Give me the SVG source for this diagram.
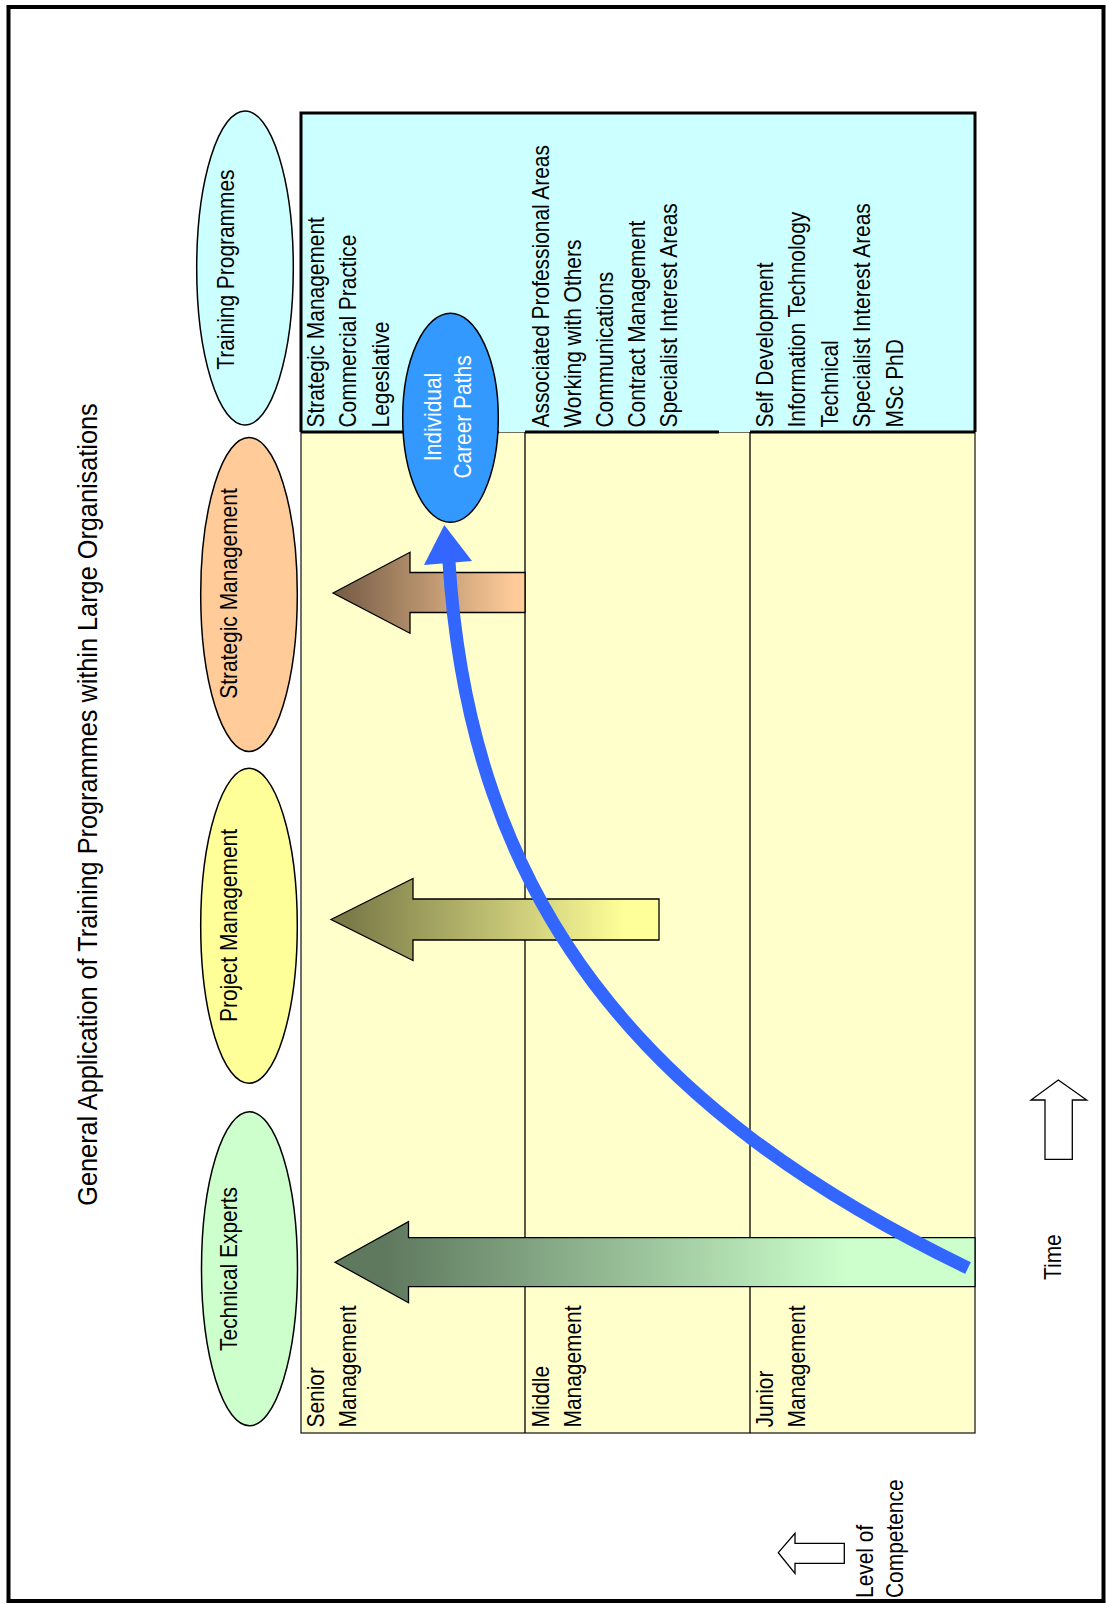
<svg xmlns="http://www.w3.org/2000/svg" width="1107" height="1604" viewBox="0 0 1107 1604">
<style>
text{font-family:"Liberation Sans",Arial,sans-serif;font-size:23px;fill:#000}
.title{font-size:27.8px}
.mid{text-anchor:middle}
.wt{fill:#fff}
.ell{stroke:#000;stroke-width:1.5}
.outline{fill:#fff;stroke:#000;stroke-width:1.3}
.blk{stroke:#000;stroke-width:1.3}
</style>
<defs>
<linearGradient id="gS" x1="0" y1="0" x2="1" y2="0"><stop offset="0.05" stop-color="#7A6048"/><stop offset="0.95" stop-color="#FFCC99"/></linearGradient>
<linearGradient id="gP" x1="0" y1="0" x2="1" y2="0"><stop offset="0.05" stop-color="#7A7A48"/><stop offset="0.9" stop-color="#FFFF99"/></linearGradient>
<linearGradient id="gT" x1="0" y1="0" x2="1" y2="0"><stop offset="0.08" stop-color="#5F795F"/><stop offset="0.8" stop-color="#CCFFCC"/></linearGradient>
</defs>
<rect x="8.5" y="7" width="1095" height="1594" fill="#fff" stroke="#000" stroke-width="4"/>
<text class="title mid" transform="translate(97,804.5) rotate(-90) scale(0.91,1)">General Application of Training Programmes within Large Organisations</text>

<g id="table">
<rect x="301" y="432" width="674" height="1001" fill="#FFFFCC" stroke="#222" stroke-width="1.3"/>
<line x1="525" y1="432" x2="525" y2="1433" stroke="#000" stroke-width="1.3"/>
<line x1="750" y1="432" x2="750" y2="1433" stroke="#000" stroke-width="1.3"/>
<rect x="301" y="113" width="674" height="319" fill="#CCFFFF"/>
<path d="M301,432 V113 H975 V432" fill="none" stroke="#000" stroke-width="3"/>
<path d="M301,432 H499 M525,432 H719 M750,432 H975" fill="none" stroke="#000" stroke-width="3"/>
</g>

<g id="programme-lists">
<text transform="translate(323.5,427.5) rotate(-90) scale(0.91,1)">Strategic Management</text>
<text transform="translate(356,427.5) rotate(-90) scale(0.91,1)">Commercial Practice</text>
<text transform="translate(388.5,427.5) rotate(-90) scale(0.91,1)">Legeslative</text>
<text transform="translate(549,427.5) rotate(-90) scale(0.91,1)">Associated Professional Areas</text>
<text transform="translate(581,427.5) rotate(-90) scale(0.91,1)">Working with Others</text>
<text transform="translate(613,427.5) rotate(-90) scale(0.91,1)">Communications</text>
<text transform="translate(645,427.5) rotate(-90) scale(0.91,1)">Contract Management</text>
<text transform="translate(677,427.5) rotate(-90) scale(0.91,1)">Specialist Interest Areas</text>
<text transform="translate(773,427.5) rotate(-90) scale(0.91,1)">Self Development</text>
<text transform="translate(805,427.5) rotate(-90) scale(0.91,1)">Information Technology</text>
<text transform="translate(837.5,427.5) rotate(-90) scale(0.91,1)">Technical</text>
<text transform="translate(870,427.5) rotate(-90) scale(0.91,1)">Specialist Interest Areas</text>
<text transform="translate(902.5,427.5) rotate(-90) scale(0.91,1)">MSc PhD</text>
</g>

<g id="row-labels">
<text transform="translate(323.5,1427.5) rotate(-90) scale(0.91,1)">Senior</text>
<text transform="translate(356,1427.5) rotate(-90) scale(0.91,1)">Management</text>
<text transform="translate(549,1427.5) rotate(-90) scale(0.91,1)">Middle</text>
<text transform="translate(581,1427.5) rotate(-90) scale(0.91,1)">Management</text>
<text transform="translate(773,1427.5) rotate(-90) scale(0.91,1)">Junior</text>
<text transform="translate(805,1427.5) rotate(-90) scale(0.91,1)">Management</text>
</g>

<g id="training-programmes">
<ellipse class="ell" cx="245" cy="268" rx="48.3" ry="157" fill="#CCFFFF"/>
<text class="mid" transform="translate(233.7,269.6) rotate(-90) scale(0.91,1)">Training Programmes</text>
</g>
<g id="strategic-management">
<ellipse class="ell" cx="249" cy="594.5" rx="48.3" ry="157" fill="#FFCC99"/>
<text class="mid" transform="translate(236.7,593.5) rotate(-90) scale(0.91,1)">Strategic Management</text>
</g>
<g id="project-management">
<ellipse class="ell" cx="249" cy="925.8" rx="48.3" ry="157.5" fill="#FFFF99"/>
<text class="mid" transform="translate(236.7,925.5) rotate(-90) scale(0.91,1)">Project Management</text>
</g>
<g id="technical-experts">
<ellipse class="ell" cx="249.5" cy="1268.8" rx="48" ry="157" fill="#CCFFCC"/>
<text class="mid" transform="translate(236.7,1269) rotate(-90) scale(0.91,1)">Technical Experts</text>
</g>

<g id="arrow-strategic">
<polygon class="blk" fill="url(#gS)" points="333,593 410,552.3 410,572.5 525,572.5 525,612.5 410,612.5 410,633.3"/>
</g>
<g id="arrow-project">
<polygon class="blk" fill="url(#gP)" points="331,919.5 413,878.5 413,899 659,899 659,940 413,940 413,960.5"/>
</g>
<g id="arrow-technical">
<polygon class="blk" fill="url(#gT)" points="335,1262.2 408.5,1221.7 408.5,1237.7 975,1237.7 975,1286.7 408.5,1286.7 408.5,1302.7"/>
</g>

<g id="connectors">
<path d="M968,1268 C640,1110 470,900 449,562" fill="none" stroke="#3366FF" stroke-width="13"/>
<polygon points="444.3,525 424,565 472,561" fill="#3366FF"/>
</g>

<g id="individual-career-paths">
<ellipse class="ell" cx="450.5" cy="417.8" rx="47.8" ry="104.5" fill="#3399FF"/>
<text class="mid wt" transform="translate(441,417) rotate(-90) scale(0.91,1)">Individual</text>
<text class="mid wt" transform="translate(471,417) rotate(-90) scale(0.91,1)">Career Paths</text>
</g>

<g id="time-axis">
<polygon class="outline" points="1058.3,1080 1086.7,1100 1072.3,1100 1072.3,1159.3 1045,1159.3 1045,1100 1031,1100"/>
<text transform="translate(1061,1280) rotate(-90) scale(0.91,1)">Time</text>
</g>

<g id="competence-axis">
<polygon class="outline" points="778.3,1552.7 795,1533.3 795,1543.3 844.3,1543.3 844.3,1563.3 795,1563.3 795,1573.3"/>
<text transform="translate(872.7,1598) rotate(-90) scale(0.91,1)">Level of</text>
<text transform="translate(903,1598) rotate(-90) scale(0.91,1)">Competence</text>
</g>
</svg>
